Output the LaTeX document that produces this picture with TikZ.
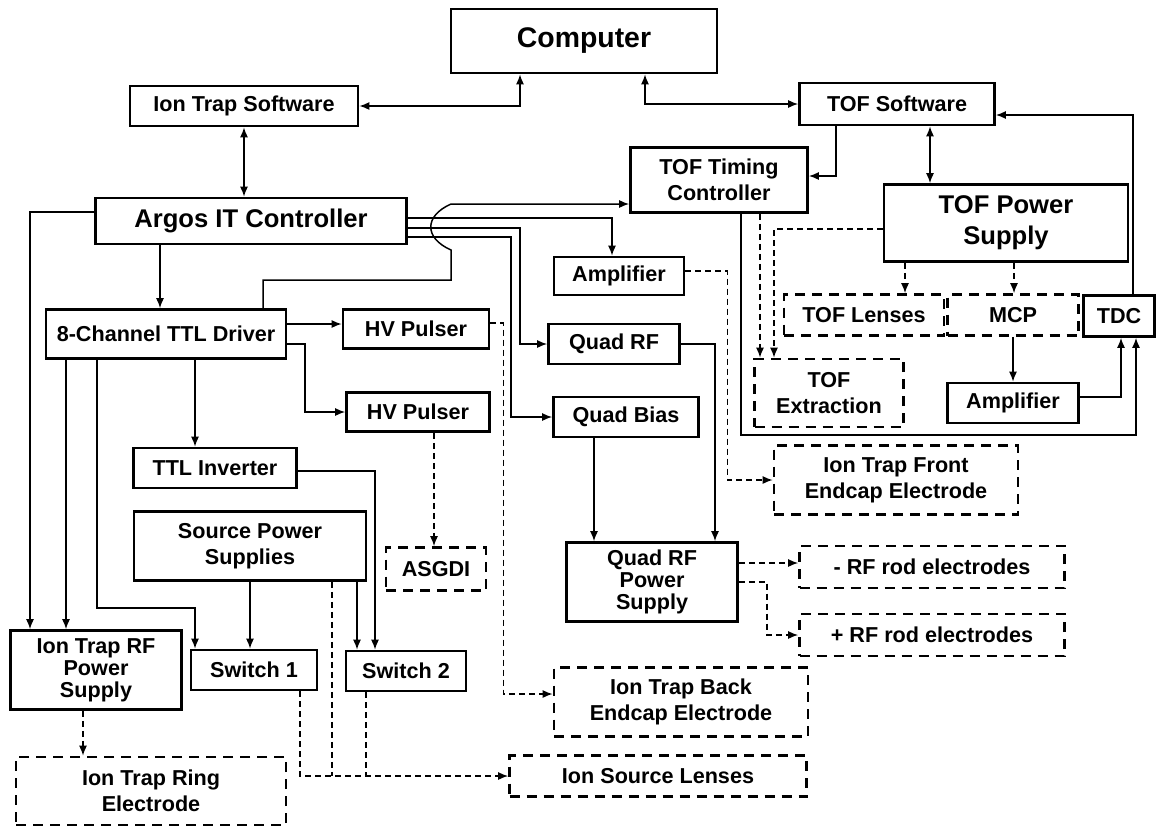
\documentclass[tikz,border=0pt]{standalone}
\usepackage{fontspec}
\setmainfont{Liberation Sans}
\usetikzlibrary{arrows.meta}

\newcommand\boxfont{\fontsize{21.6}{26}\selectfont\bfseries}
\newcommand\tightfont{\fontsize{21.6}{22}\selectfont\bfseries}
\newcommand\headfont{\fontsize{25.6}{31}\selectfont\bfseries}
\newcommand\compfont{\fontsize{28.4}{32}\selectfont\bfseries}

\begin{document}
\begin{tikzpicture}[x=1pt, y=-1pt, line width=1.5pt,
  sbox/.style={draw, line width=2.6pt, align=center, inner sep=0pt, font=\boxfont},
  dbox/.style={sbox, dash pattern=on 10pt off 7pt},
  a/.style={-{Latex[length=10pt,width=8pt]}},
  ab/.style={{Latex[length=10pt,width=8pt]}-{Latex[length=10pt,width=8pt]}},
  da/.style={a, dash pattern=on 6pt off 4pt},
  dl/.style={dash pattern=on 6pt off 4pt}]

  \useasboundingbox (0,0) rectangle (1158,828);

  \node[sbox, font=\compfont, minimum width=266, minimum height=64] (comp)  at (584,41)  {Computer};
  \node[sbox, minimum width=228, minimum height=40] (itsw)   at (244,106) {Ion Trap Software};
  \node[sbox, minimum width=195, minimum height=42] (tofsw)  at (897,104) {TOF Software};
  \node[sbox, minimum width=177, minimum height=65] (tofctl) at (719,180) {TOF Timing\\Controller};
  \node[sbox, font=\headfont, minimum width=244, minimum height=77] (tofps) at (1006,223) {TOF Power\\Supply};
  \node[sbox, font=\headfont, minimum width=311, minimum height=46] (argos) at (251,221) {Argos IT Controller};
  \node[sbox, minimum width=130, minimum height=38] (amp1)   at (619,276) {Amplifier};
  \node[sbox, minimum width=240, minimum height=49] (ttl)    at (166,334) {8-Channel TTL Driver};
  \node[sbox, minimum width=146, minimum height=39] (hv1)    at (416,329) {HV Pulser};
  \node[sbox, minimum width=143, minimum height=39] (hv2)    at (418,412) {HV Pulser};
  \node[sbox, minimum width=131, minimum height=40] (qrf)    at (614,344) {Quad RF};
  \node[sbox, minimum width=145, minimum height=40] (qbias)  at (626,417) {Quad Bias};
  \node[dbox, minimum width=160, minimum height=41] (tofl)   at (864,315) {TOF Lenses};
  \node[dbox, minimum width=131, minimum height=41] (mcp)    at (1013,315) {MCP};
  \node[sbox, minimum width=71,  minimum height=41] (tdc)    at (1119,316) {TDC};
  \node[dbox, minimum width=149, minimum height=68] (tofx)   at (829,393) {TOF\\Extraction};
  \node[sbox, minimum width=131, minimum height=40] (amp2)   at (1013,403) {Amplifier};
  \node[sbox, minimum width=163, minimum height=40] (ttlinv) at (215,468) {TTL Inverter};
  \node[sbox, minimum width=232, minimum height=69] (srcps)  at (250,546) {Source Power\\Supplies};
  \node[dbox, minimum width=100, minimum height=43] (asgdi)  at (436,569) {ASGDI};
  \node[dbox, minimum width=244, minimum height=69] (front)  at (896,480) {Ion Trap Front\\Endcap Electrode};
  \node[sbox, font=\tightfont, minimum width=171, minimum height=79] (qrfps) at (652,582) {Quad RF\\Power\\Supply};
  \node[dbox, minimum width=265, minimum height=42] (rfm)    at (932,567) {- RF rod electrodes};
  \node[dbox, minimum width=265, minimum height=42] (rfp)    at (932,635) {+ RF rod electrodes};
  \node[sbox, font=\tightfont, minimum width=171, minimum height=79] (itrf) at (96,670) {Ion Trap RF\\Power\\Supply};
  \node[sbox, minimum width=126, minimum height=40] (sw1)    at (254,670) {Switch 1};
  \node[sbox, minimum width=120, minimum height=40] (sw2)    at (406,671) {Switch 2};
  \node[dbox, minimum width=254, minimum height=69] (back)   at (681,702) {Ion Trap Back\\Endcap Electrode};
  \node[dbox, minimum width=270, minimum height=68] (ring)   at (151,791) {Ion Trap Ring\\Electrode};
  \node[dbox, minimum width=297, minimum height=41] (srclens) at (658,776) {Ion Source Lenses};

  % software and computer
  \draw[ab] (itsw.east) -| ([xshift=-64]comp.south);
  \draw[ab] (tofsw.west) -| ([xshift=61]comp.south);
  \draw[ab] (itsw.south) -- (itsw.south |- argos.north);
  \draw[a]  ([xshift=-61]tofsw.south) |- ([yshift=4]tofctl.east);
  \draw[ab] ([xshift=33]tofsw.south) -- ([xshift=33]tofsw.south |- tofps.north);
  \draw[a]  ([xshift=14]tdc.north) |- ([yshift=-11]tofsw.east);

  % ion trap controller
  \draw[a] ([yshift=9]argos.west) -| ([xshift=-66]itrf.north);
  \draw[a] ([xshift=-91]argos.south) -- ([xshift=-91]argos.south |- ttl.north);
  \draw[a] ([yshift=3]argos.east) -| ([xshift=-7]amp1.north);
  \draw[a] ([yshift=-7]argos.east) -| ([xshift=-27]qrf.west) -- (qrf.west);
  \draw[a] ([yshift=-16]argos.east) -| ([xshift=-41]qbias.west) -- (qbias.west);
  \draw[a] ([xshift=97]ttl.north) -- ++(0,-28) -| (451,250)
           .. controls (424,238) and (424,216) .. (451,204) -- ([yshift=-24]tofctl.west);

  % TTL driver
  \draw[a] ([yshift=10]ttl.east) -- ([yshift=10]ttl.east -| hv1.west);
  \draw[a] ([yshift=-10]ttl.east) -| ([xshift=-40]hv2.west) -- (hv2.west);
  \draw[a] ([xshift=29]ttl.south) -- ([xshift=29]ttl.south |- ttlinv.north);
  \draw[a] ([xshift=-100]ttl.south) -- ([xshift=-100]ttl.south |- itrf.north);
  \draw[a] ([xshift=-69]ttl.south) -- ++(0,248) -| ([xshift=-59]sw1.north);
  \draw[a] (srcps.south) -- (srcps.south |- sw1.north);
  \draw[a] ([xshift=107]srcps.south) -- ([xshift=107]srcps.south |- sw2.north);
  \draw[a] ([yshift=-3]ttlinv.east) -| ([xshift=-31]sw2.north);

  % pulsers and quad
  \draw[da] ([yshift=6]hv1.east) -| ([xshift=-49,yshift=8]back.west) -- ([yshift=8]back.west);
  \draw[da] ([xshift=16]hv2.south) -- ([xshift=16]hv2.south |- asgdi.north);
  \draw[da] ([yshift=5]amp1.east) -| ([xshift=-45]front.west) -- (front.west);
  \draw[a]  (qrf.east) -| ([xshift=63]qrfps.north);
  \draw[a]  ([xshift=-32]qbias.south) -- ([xshift=-32]qbias.south |- qrfps.north);
  \draw[da] ([yshift=19]qrfps.east) -- ([yshift=19]qrfps.east -| rfm.west);
  \draw[da] (qrfps.east) -| ([xshift=-31]rfp.west) -- (rfp.west);

  % TOF
  \draw[a]  ([xshift=22]tofctl.south) -- ++(0,221) -| ([xshift=17]tdc.south);
  \draw[da] ([xshift=41]tofctl.south) -- ([xshift=41]tofctl.south |- tofx.north);
  \draw[da] ([yshift=-6]tofps.west) -| ([xshift=-55]tofx.north);
  \draw[da] ([xshift=-101]tofps.south) -- ([xshift=-101]tofps.south |- tofl.north);
  \draw[da] ([xshift=8]tofps.south) -- ([xshift=8]tofps.south |- mcp.north);
  \draw[a]  (mcp.south) -- (amp2.north);
  \draw[a]  ([yshift=6]amp2.east) -| ([xshift=2]tdc.south);

  % electrodes and lenses
  \draw[da] ([xshift=-13]itrf.south) -- ([xshift=-13]itrf.south |- ring.north);
  \draw[da] ([xshift=46]sw1.south) |- (srclens.west);
  \draw[dl] ([xshift=82]srcps.south) -- ([xshift=82]srcps.south |- srclens.west);
  \draw[dl] ([xshift=-40]sw2.south) -- ([xshift=-40]sw2.south |- srclens.west);

\end{tikzpicture}
\end{document}
